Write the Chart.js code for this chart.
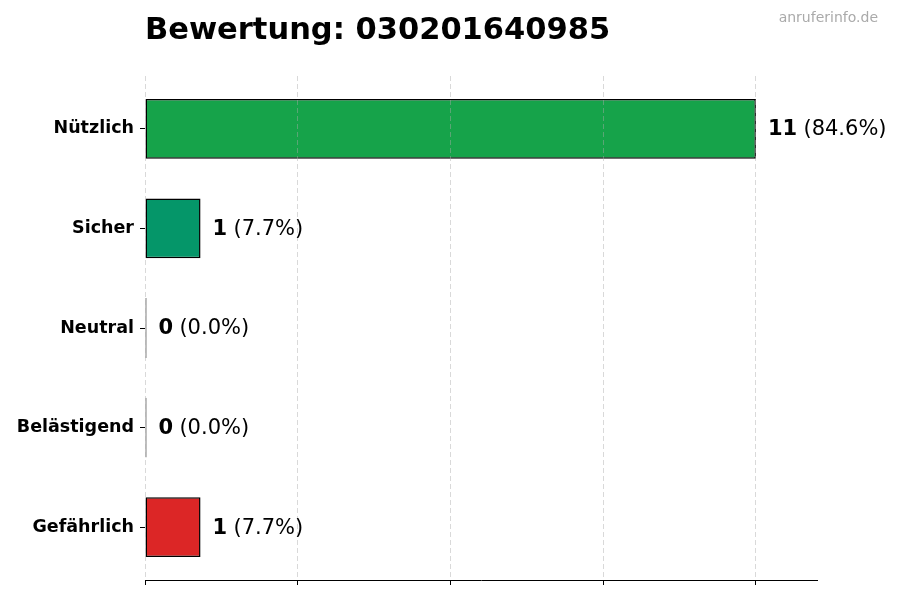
<!DOCTYPE html>
<html>
<head>
<meta charset="utf-8">
<script src="https://cdn.jsdelivr.net/npm/chart.js@4.4.1/dist/chart.umd.min.js"></script>
<style>
  html, body { margin: 0; padding: 0; background: #fff; }
  #wrap { width: 900px; height: 600px; }
</style>
</head>
<body>
<div id="wrap"><canvas id="chart" width="900" height="600"></canvas></div>
<script>
// Daten
const kategorien = ["Nützlich", "Sicher", "Neutral", "Belästigend", "Gefährlich"];
const anzahl = [11, 1, 0, 0, 1];
const farben = ["#16a34a", "#059669", "#6b7280", "#ea580c", "#dc2626"];
const xTicks = [0, 2.75, 5.5, 8.25, 11];
const titel = "Bewertung: 030201640985";
const quelle = "anruferinfo.de";

const FONT = "'DejaVu Sans', sans-serif";
const gesamt = anzahl.reduce((a, b) => a + b, 0);

// Titel + Wasserzeichen
const titelPlugin = {
  id: "titel",
  afterDraw(chart) {
    const ctx = chart.ctx;
    ctx.save();
    ctx.fillStyle = "#000";
    ctx.font = "bold 30.5px " + FONT;
    ctx.textAlign = "left";
    ctx.textBaseline = "middle";
    ctx.fillText(titel, chart.chartArea.left, 31);
    ctx.fillStyle = "#aaaaaa";
    ctx.font = "14px " + FONT;
    ctx.textAlign = "right";
    ctx.fillText(quelle, 878, 18);
    ctx.restore();
  }
};

// Werte rechts neben den Balken
const wertePlugin = {
  id: "werte",
  afterDraw(chart) {
    const ctx = chart.ctx;
    const meta = chart.getDatasetMeta(0);
    ctx.save();
    ctx.textBaseline = "middle";
    ctx.textAlign = "left";
    ctx.fillStyle = "#000";
    meta.data.forEach((bar, i) => {
      const v = anzahl[i];
      const pct = gesamt ? (v / gesamt * 100).toFixed(1) : "0.0";
      const x0 = Math.max(bar.x, bar.base) + 12;
      ctx.font = "bold 21px " + FONT;
      const s1 = String(v);
      ctx.fillText(s1, x0, bar.y + 1);
      const w1 = ctx.measureText(s1 + " ").width;
      ctx.font = "21px " + FONT;
      ctx.fillText("(" + pct + "%)", x0 + w1 - 1, bar.y + 1);
    });
    ctx.restore();
  }
};

new Chart(document.getElementById("chart"), {
  type: "bar",
  data: {
    datasets: [{
      data: anzahl.map((v, i) => ({ x: v, y: i })),
      backgroundColor: farben,
      borderColor: "#000",
      borderWidth: 1.5,
      borderSkipped: false,
      barPercentage: 0.6,
      categoryPercentage: 1,
      minBarLength: 1.5
    }]
  },
  options: {
    indexAxis: "y",
    responsive: false,
    animation: false,
    devicePixelRatio: 1,
    layout: { padding: { top: 76, right: 83, bottom: 15, left: 0 } },
    plugins: {
      legend: { display: false },
      tooltip: { enabled: false },
      title: { display: false }
    },
    scales: {
      x: {
        type: "linear",
        min: 0,
        max: 12.1,
        offset: false,
        afterBuildTicks: (s) => { s.ticks = xTicks.map(v => ({ value: v })); },
        ticks: { display: false },
        grid: {
          z: 1,
          offset: false,
          color: "rgba(170,170,170,0.45)",
          lineWidth: 1,
          drawTicks: true,
          tickLength: 5,
          tickColor: "#000",
          tickWidth: 1,
          tickBorderDash: []
        },
        border: { display: true, color: "#000", width: 1, dash: [5, 3], z: 1 }
      },
      y: {
        type: "linear",
        reverse: true,
        min: -0.53,
        max: 4.53,
        offset: false,
        afterBuildTicks: (s) => { s.ticks = kategorien.map((k, i) => ({ value: i })); },
        afterFit: (s) => { s.width = 145; },
        ticks: {
          autoSkip: false,
          padding: 6,
          color: "#000",
          font: { family: FONT, size: 17.5, weight: "bold" },
          callback: (v) => kategorien[v]
        },
        grid: {
          offset: false,
          drawOnChartArea: false,
          drawTicks: true,
          tickLength: 5,
          tickColor: "#000",
          tickWidth: 1
        },
        border: { display: false }
      }
    }
  },
  plugins: [titelPlugin, wertePlugin]
});
</script>
</body>
</html>
